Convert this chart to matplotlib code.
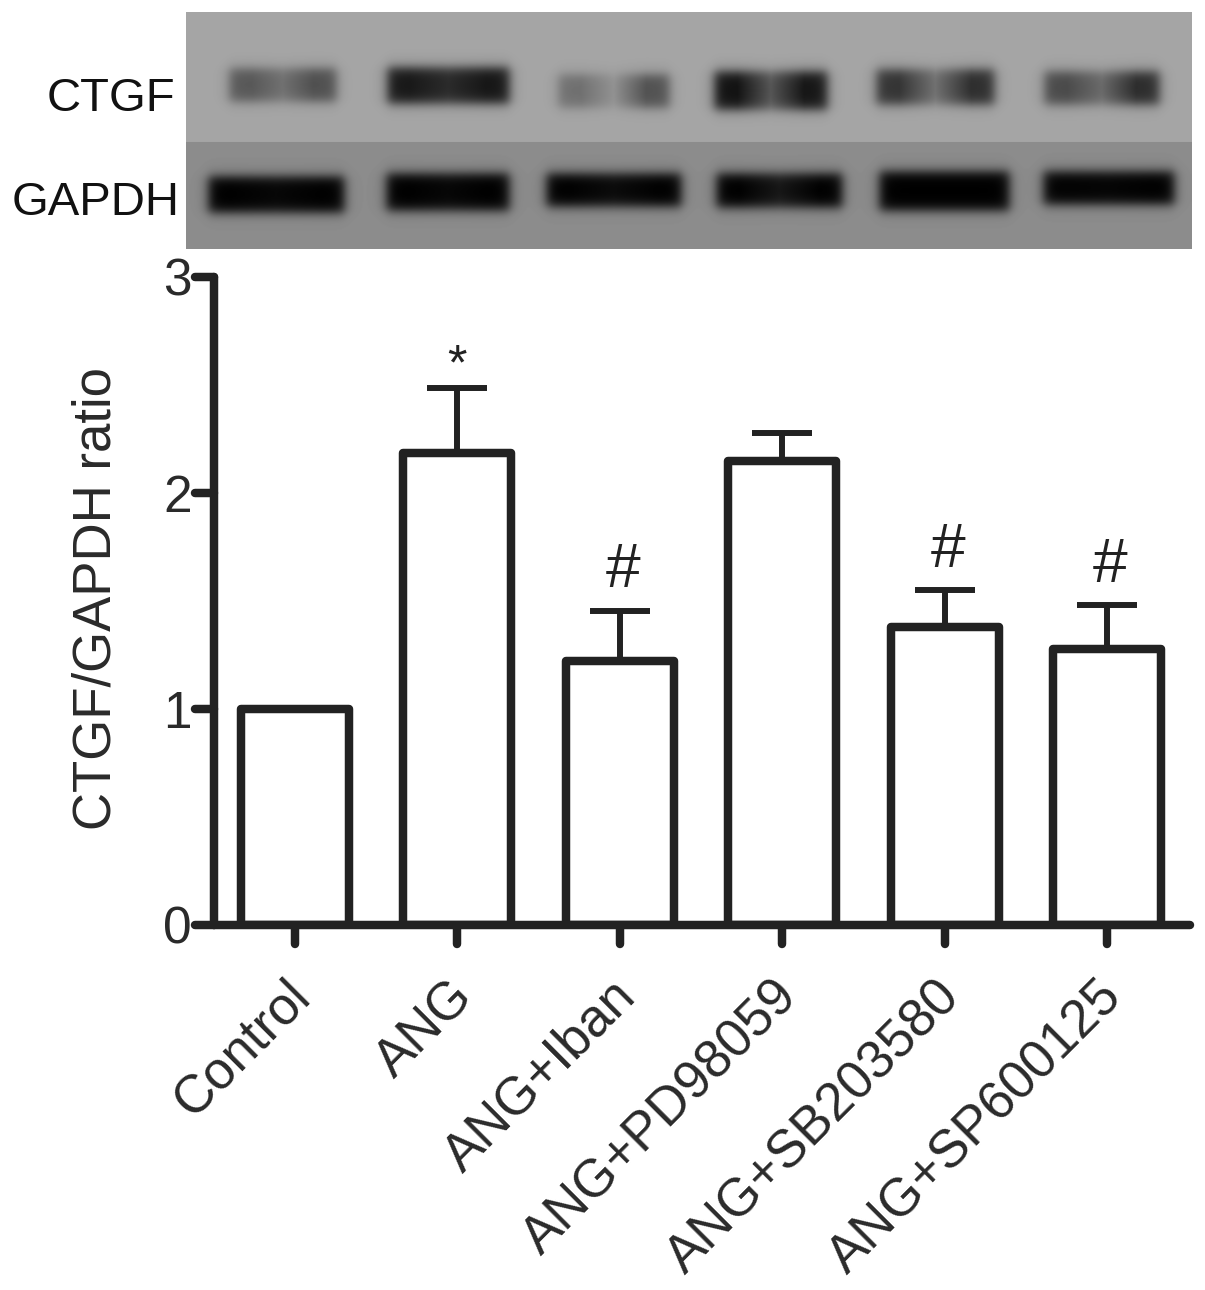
import numpy as np
import matplotlib
matplotlib.use('Agg')
import matplotlib.pyplot as plt
from matplotlib.markers import MarkerStyle, TICKLEFT, TICKDOWN
from matplotlib.transforms import ScaledTranslation

plt.rcParams['font.family'] = ['Liberation Sans', 'DejaVu Sans']

W, H = 1205, 1290
categories = ['Control', 'ANG', 'ANG+Iban', 'ANG+PD98059', 'ANG+SB203580', 'ANG+SP600125']
values = [1.0, 2.185, 1.22, 2.15, 1.38, 1.28]
errors = [0.0, 0.30, 0.235, 0.13, 0.17, 0.20]
marks = ['', '*', '#', '', '#', '#']
yticks = [0, 1, 2, 3]

# Blot bands: x start, x end, y start, y end, grey left, grey middle, grey right
ctgf_bands = [
    (224, 341, 63, 106, 88, 112, 80),
    (382, 514, 62, 108, 24, 42, 22),
    (553, 674, 69, 112, 112, 145, 82),
    (709, 832, 66, 114, 18, 85, 22),
    (871, 999, 64, 109, 52, 112, 46),
    (1039, 1164, 66, 109, 74, 105, 44),
]
gapdh_bands = [
    (203, 349, 171, 217, 0, 6, 0),
    (381, 514, 168, 215, 0, 6, 0),
    (541, 686, 168, 211, 0, 10, 0),
    (711, 847, 168, 212, 0, 22, 0),
    (874, 1014, 166, 215, 0, 0, 0),
    (1038, 1179, 166, 209, 2, 4, 0),
]
blot_bg_top, blot_bg_bottom = 165, 140


def px_axes(x0, y0, x1, y1):
    return fig.add_axes([x0 / W, 1 - y1 / H, (x1 - x0) / W, (y1 - y0) / H])


fig = plt.figure(figsize=(W / 100, H / 100), dpi=100, facecolor='white')

# Western blot panel
bx0, by0, bx1, by1, bsplit = 186, 12, 1192, 249, 142
yy, xx = np.mgrid[by0:by1, bx0:bx1].astype(float)
img = np.where(yy < bsplit, float(blot_bg_top), float(blot_bg_bottom))
for (x0, x1, y0, y1, gl, gm, gr) in ctgf_bands + gapdh_bands:
    edge = 3.3
    ax_mask = (1 / (1 + np.exp((x0 + 5 - xx) / edge))) * (1 / (1 + np.exp((xx - x1 + 5) / edge)))
    ay_mask = (1 / (1 + np.exp((y0 + 5 - yy) / edge))) * (1 / (1 + np.exp((yy - y1 + 5) / edge)))
    grey = np.interp(xx, [x0 + 28, (x0 + x1) / 2, x1 - 28], [gl, gm, gr])
    m = ax_mask * ay_mask
    img = img * (1 - m) + grey * m
bax = px_axes(bx0, by0, bx1, by1)
bax.imshow(img, cmap='gray', vmin=0, vmax=255, aspect='auto', interpolation='bilinear')
bax.set_axis_off()

fig.text(175 / W, 1 - 99 / H, 'CTGF', fontsize=34, color='#111111', ha='right', va='center')
fig.text(180 / W, 1 - 203 / H, 'GAPDH', fontsize=34, color='#111111', ha='right', va='center')

# Bar chart
ax = px_axes(214, 277, 1190, 925)
spacing = 162.4
ax.set_xlim((214 - 295) / spacing, (1190 - 295) / spacing)
ax.set_ylim(0, 3)
ink = '#222222'
lw = 6.1
x = np.arange(len(categories))
ax.bar(x, values, width=108 / spacing, facecolor='white', edgecolor=ink, linewidth=lw, zorder=2,
       joinstyle='round')
ax.errorbar(x[1:], values[1:], yerr=[np.zeros(5), errors[1:]], fmt='none', ecolor=ink,
            elinewidth=4.3, capsize=21.3, capthick=4.3, zorder=1)
nudge = ScaledTranslation(3 / 100, -3 / 100, fig.dpi_scale_trans)
for i, m in enumerate(marks):
    if m == '#':
        ax.text(i, values[i] + errors[i] + 0.2, m, ha='center', va='center', fontsize=45, color=ink,
                transform=ax.transData + nudge)
    elif m == '*':
        ax.text(i, values[i] + errors[i] + 0.10, m, ha='center', va='center', fontsize=36, color=ink)

for s in ['top', 'right']:
    ax.spines[s].set_visible(False)
for s in ['left', 'bottom']:
    ax.spines[s].set_linewidth(lw)
    ax.spines[s].set_color(ink)
    ax.spines[s].set_capstyle('round')
    ax.spines[s].set_zorder(3)
ax.set_yticks(yticks)
ax.set_xticks(x)
ax.set_xticklabels(categories, rotation=45, ha='right', va='top', rotation_mode='anchor')
ax.tick_params(axis='y', length=13.5, width=lw, color=ink, labelsize=37, labelcolor='#2a2a2a', pad=2.5)
ax.tick_params(axis='x', length=14, width=lw, color=ink, labelsize=38, labelcolor='#2a2a2a', pad=17)
for t in ax.yaxis.get_major_ticks():
    t.tick1line.set_marker(MarkerStyle(TICKLEFT, capstyle='round'))
for t in ax.xaxis.get_major_ticks():
    t.tick1line.set_marker(MarkerStyle(TICKDOWN, capstyle='round'))
shift = ScaledTranslation(-10 / 100, -3 / 100, fig.dpi_scale_trans)
for lab in ax.get_xticklabels():
    lab.set_transform(lab.get_transform() + shift)
ax.set_ylabel('CTGF/GAPDH ratio', fontsize=38, color='#2a2a2a')
ax.yaxis.set_label_coords((122 - 214) / 976, (925 - 598) / 648)

fig.savefig('out.png', dpi=100)
